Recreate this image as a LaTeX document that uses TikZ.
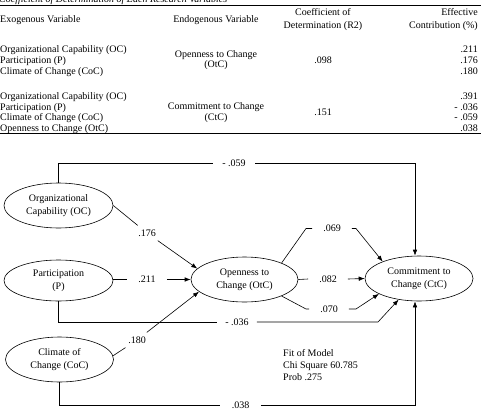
\documentclass[tikz,border=0pt]{standalone}
\usepackage{fontspec}
\setmainfont{Liberation Serif}
\usetikzlibrary{arrows.meta,shapes.geometric}
\begin{document}
\begin{tikzpicture}[x=1pt,y=-1pt,
  every node/.style={font=\fontsize{10}{13}\selectfont},
  var/.style={draw, ellipse, inner sep=0pt, align=center, line width=0.6pt},
  conn/.style={line width=0.6pt},
  arr/.style={conn, -{Latex[length=6pt,width=4.5pt]}},
  hlab/.style={inner xsep=11pt, inner ysep=2pt},
  dlab/.style={inner sep=4pt},
  tab/.style={inner sep=0pt, text height=7pt, text depth=2pt},
  rule/.style={line width=0.8pt}]
\useasboundingbox (0,0) rectangle (481,412);

% ---------- table ----------
\node[tab, anchor=base west, font=\fontsize{10}{13}\selectfont\itshape] (title) at (-1,3) {Coefficient of Determination of Each Research Variables};
\draw[rule] (0,5.5) -- (481,5.5);
\node[tab, anchor=west] (h1) at (0,20) {Exogenous Variable};
\node[tab] (h2) at (216,20) {Endogenous Variable};
\node[tab] (h3a) at (323,13) {Coefficient of};
\node[tab] (h3b) at (323,26) {Determination (R2)};
\node[tab, anchor=east] (h4a) at (478,13) {Effective};
\node[tab, anchor=east] (h4b) at (478,26) {Contribution (\%)};

\node[tab, anchor=west] (r1a) at (0,50) {Organizational Capability (OC)};
\node[tab, anchor=west] (r1b) at (0,61) {Participation (P)};
\node[tab, anchor=west] (r1c) at (0,72) {Climate of Change (CoC)};
\node[tab] (e1a) at (216,55) {Openness to Change};
\node[tab] (e1b) at (216,65) {(OtC)};
\node[tab] (c1) at (323,61) {.098};
\node[tab, anchor=east] (v1a) at (478,50) {.211};
\node[tab, anchor=east] (v1b) at (478,61) {.176};
\node[tab, anchor=east] (v1c) at (478,72) {.180};

\node[tab, anchor=west] (r2a) at (0,97) {Organizational Capability (OC)};
\node[tab, anchor=west] (r2b) at (0,108) {Participation (P)};
\node[tab, anchor=west] (r2c) at (0,118) {Climate of Change (CoC)};
\node[tab, anchor=west] (r2d) at (0,128.5) {Openness to Change (OtC)};
\node[tab] (e2a) at (216,107) {Commitment to Change};
\node[tab] (e2b) at (216,118) {(CtC)};
\node[tab] (c2) at (323,113) {.151};
\node[tab, anchor=east] (v2a) at (478,97) {.391};
\node[tab, anchor=east] (v2b) at (478,108) {- .036};
\node[tab, anchor=east] (v2c) at (478,118) {- .059};
\node[tab, anchor=east] (v2d) at (478,128.5) {.038};
\draw[rule] (0,133.5) -- (481,133.5);

% ---------- diagram ----------
\node[var, minimum width=109pt, minimum height=45pt] (oc) at (58.5,205.5) {Organizational\\Capability (OC)};
\node[var, minimum width=109pt, minimum height=41pt] (p) at (58.5,280.5) {Participation\\(P)};
\node[var, minimum width=108pt, minimum height=45pt] (coc) at (59.5,359.5) {Climate of\\Change (CoC)};
\node[var, minimum width=107pt, minimum height=45pt] (otc) at (244.5,279.5) {Openness to\\Change (OtC)};
\node[var, minimum width=108pt, minimum height=45pt] (ctc) at (419,278.5) {Commitment to\\Change (CtC)};

\node[hlab, inner xsep=9.5pt] (l059) at (234,163) {- .059};
\node[dlab] (l176) at (147,233) {.176};
\node[hlab] (l211) at (147,279.5) {.211};
\node[hlab, inner xsep=8pt] (l036) at (237,322) {- .036};
\node[dlab] (l180) at (137,340) {.180};
\node[hlab, inner xsep=11.5pt] (l038) at (240.5,405) {.038};
\node[hlab] (l069) at (332,228.5) {.069};
\node[hlab] (l082) at (328,279) {.082};
\node[hlab] (l070) at (329,309) {.070};

\coordinate (b069a) at (306,228.5);
\coordinate (b069b) at (356,228.5);
\coordinate (b070a) at (306,309);
\coordinate (b070b) at (356,309);
\coordinate (b036) at (378,322);

\node[anchor=west, align=left, inner sep=0pt, font=\fontsize{10}{12}\selectfont] (fit) at (283,365) {Fit of Model\\Chi Square 60.785\\Prob .275};

% connectors
\draw[conn] (oc.north) |- (l059.west);
\draw[arr] (l059.east) -| ([xshift=-4pt]ctc.north);

\draw[conn] (oc.east) -- (l176);
\draw[arr] (l176) -- (otc.167);

\draw[conn] (l211.west -| p.east) -- (l211.west);
\draw[arr] (l211.east) -- (otc.west);

\draw[conn] (p.south) |- (l036.west);
\draw[arr] (l036.east) -- (b036) -- (ctc.226);

\draw[conn] (coc.4) -- (l180);
\draw[arr] (l180) -- (otc.195);

\draw[conn] (coc.south) |- (l038.west);
\draw[arr] (l038.east) -| ([xshift=-4pt]ctc.south);

\draw[conn] (otc.24) -- (b069a) -- (l069.west);
\draw[arr] (l069.east) -- (b069b) -- (ctc.155);

\draw[conn] (otc.east) -- (l082.west);
\draw[arr] (l082.east) -- (ctc.west);

\draw[conn] (otc.-24) -- (b070a) -- (l070.west);
\draw[arr] (l070.east) -- (b070b) -- (ctc.201);
\end{tikzpicture}
\end{document}
